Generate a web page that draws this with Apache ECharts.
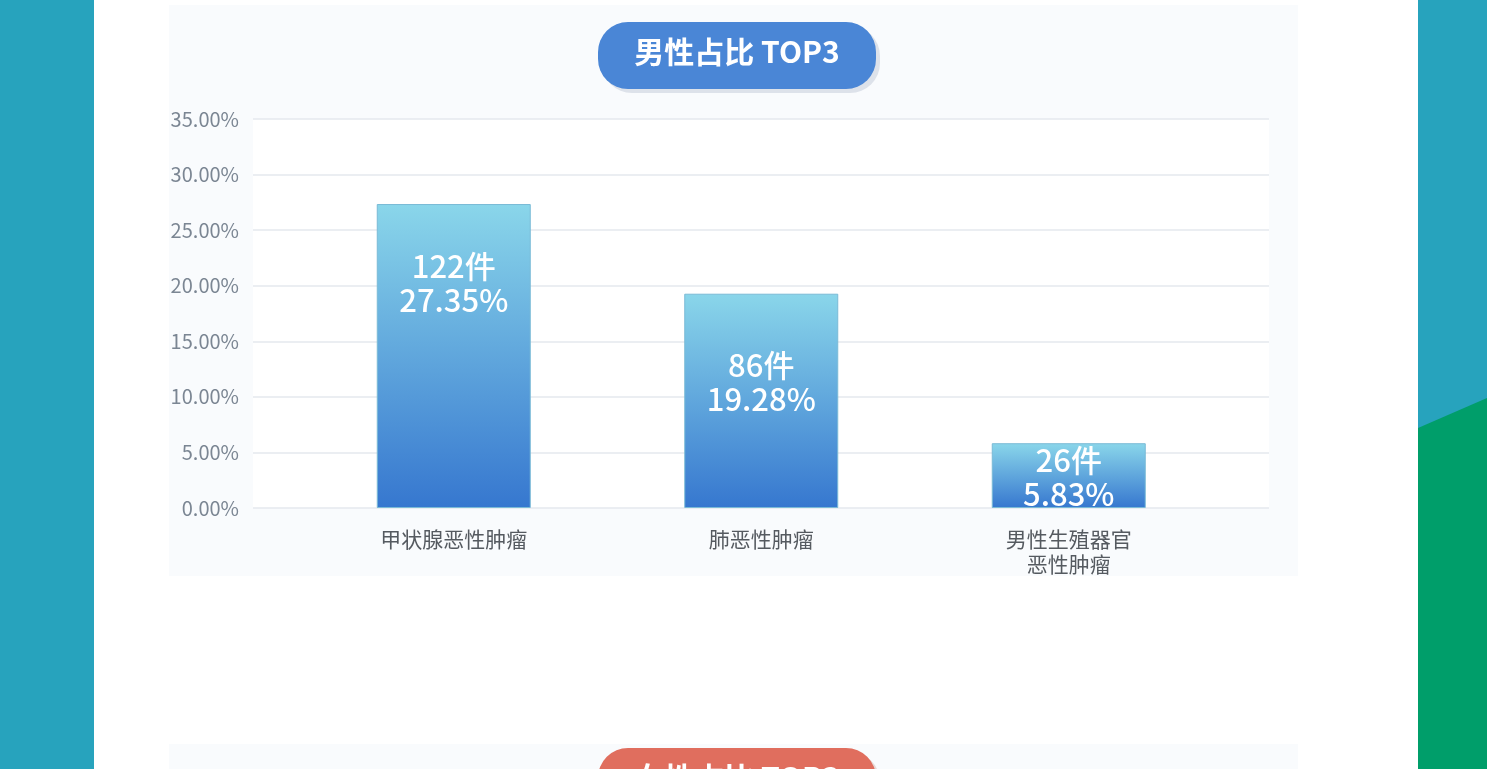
<!DOCTYPE html>
<html lang="zh">
<head>
<meta charset="UTF-8">
<title>男性占比 TOP3</title>
<script src="https://cdn.jsdelivr.net/npm/echarts/dist/echarts.min.js"></script>
<style>
  html, body { margin: 0; padding: 0; background: #ffffff; }
  #main { width: 1487px; height: 769px; }
</style>
</head>
<body>
<div id="main"></div>
<script type="text/javascript">
    // 数据
    var categories = ['甲状腺恶性肿瘤', '肺恶性肿瘤', '男性生殖器官\n恶性肿瘤'];
    var percentValues = [27.35, 19.28, 5.83];
    var caseCounts = [122, 86, 26];
    var yTicks = [0, 5, 10, 15, 20, 25, 30, 35];

    var labelDistance = [45, 55, 0]; // 标签距柱顶的距离

    var myChart = echarts.init(document.getElementById('main'));

    var barData = percentValues.map(function (v, i) {
        return {
            value: v,
            label: { distance: labelDistance[i] }
        };
    });

    var option = {
        animation: false,
        textStyle: { fontFamily: '"Noto Sans CJK SC", "Noto Sans", sans-serif' },
        graphic: [
            // 背景
            { type: 'rect', z: -10, silent: true, shape: { x: 0, y: 0, width: 94, height: 769 }, style: { fill: '#27a3bd' } },
            { type: 'rect', z: -10, silent: true, shape: { x: 1418, y: 0, width: 69, height: 769 }, style: { fill: '#27a3bd' } },
            { type: 'polygon', z: -9, silent: true, shape: { points: [[1418, 428], [1487, 398], [1487, 769], [1418, 769]] }, style: { fill: '#009e6a' } },
            { type: 'rect', z: -10, silent: true, shape: { x: 169, y: 5, width: 1129, height: 571 }, style: { fill: '#f9fbfd' } },
            { type: 'rect', z: -10, silent: true, shape: { x: 169, y: 744, width: 1129, height: 40 }, style: { fill: '#f9fbfd' } },
            // 标题按钮
            { type: 'rect', z: 10, silent: true, shape: { x: 602, y: 26, width: 278, height: 67, r: 30 }, style: { fill: '#dde2ea' } },
            { type: 'rect', z: 11, silent: true, shape: { x: 598, y: 22, width: 278, height: 67, r: 30 }, style: { fill: '#4a86d6' } },
            { type: 'text', z: 12, silent: true, x: 737, y: 52, style: { text: '男性占比 TOP3', fill: '#ffffff', font: 'bold 30px "Noto Sans CJK SC", sans-serif', align: 'center', verticalAlign: 'middle' } },
            { type: 'rect', z: 10, silent: true, shape: { x: 602, y: 752, width: 278, height: 67, r: 30 }, style: { fill: '#e8d9d6' } },
            { type: 'rect', z: 11, silent: true, shape: { x: 598, y: 748, width: 278, height: 67, r: 30 }, style: { fill: '#e06e5e' } },
            { type: 'text', z: 12, silent: true, x: 737, y: 778, style: { text: '女性占比 TOP3', fill: '#ffffff', font: 'bold 30px "Noto Sans CJK SC", sans-serif', align: 'center', verticalAlign: 'middle' } }
        ],
        grid: [
            { left: 253, right: 218, top: 119, bottom: 261, show: true, backgroundColor: '#ffffff', borderWidth: 0 },
            { left: 300, right: 264.5, top: 119, bottom: 261 }
        ],
        xAxis: [
            { type: 'value', gridIndex: 0, show: false, min: 0, max: 1 },
            {
                type: 'category',
                gridIndex: 1,
                data: categories,
                axisLine: { show: false },
                axisTick: { show: false },
                axisLabel: { color: '#555a60', fontSize: 21, lineHeight: 25, margin: 19 }
            }
        ],
        yAxis: [
            {
                type: 'value',
                gridIndex: 0,
                min: yTicks[0],
                max: yTicks[yTicks.length - 1],
                interval: 5,
                axisLine: { show: false },
                axisTick: { show: false },
                axisLabel: {
                    color: '#7b8693',
                    fontSize: 20,
                    margin: 14,
                    formatter: function (v) { return v.toFixed(2) + '%'; }
                },
                splitLine: { lineStyle: { color: '#e4e8ee', width: 1.5 } }
            },
            { type: 'value', gridIndex: 1, show: false, min: 0, max: 35 }
        ],
        series: [
            {
                type: 'bar',
                xAxisIndex: 1,
                yAxisIndex: 1,
                barWidth: 154,
                data: barData,
                itemStyle: {
                    color: new echarts.graphic.LinearGradient(0, 0, 0, 1, [
                        { offset: 0, color: '#8ad6ea' },
                        { offset: 1, color: '#3677cf' }
                    ]),
                    borderColor: '#7abad6',
                    borderWidth: 1
                },
                label: {
                    show: true,
                    position: 'insideTop',
                    color: '#ffffff',
                    fontSize: 31,
                    fontWeight: 500,
                    lineHeight: 34,
                    formatter: function (p) {
                        return caseCounts[p.dataIndex] + '件\n' + p.value.toFixed(2) + '%';
                    }
                }
            }
        ]
    };

    myChart.setOption(option);
</script>
</body>
</html>
